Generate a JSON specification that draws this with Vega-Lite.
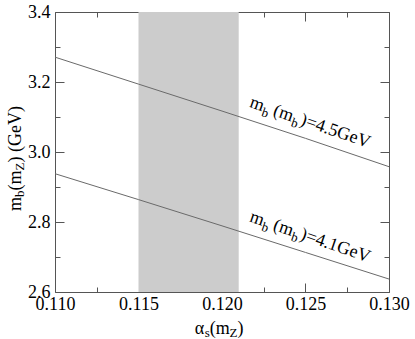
{
  "$schema": "https://vega.github.io/schema/vega-lite/v6.json",
  "width": 334,
  "height": 280,
  "autosize": "none",
  "padding": {"left": 55, "top": 12, "right": 26, "bottom": 47},
  "background": "white",
  "config": {
    "view": {"stroke": null},
    "font": "Liberation Serif",
    "axis": {
      "grid": false,
      "labelFont": "Liberation Serif",
      "labelFontSize": 18,
      "labelColor": "black",
      "tickColor": "#555555",
      "tickWidth": 1,
      "domainColor": "#555555",
      "domainWidth": 1,
      "labelOverlap": false,
      "labelFlush": false,
      "zindex": 1
    }
  },
  "datasets": {
    "band": [{"lo": 0.115, "hi": 0.121}],
    "curves": [
      {"s": "4.5", "x": 0.110, "y": 3.271},
      {"s": "4.5", "x": 0.115, "y": 3.194},
      {"s": "4.5", "x": 0.120, "y": 3.117},
      {"s": "4.5", "x": 0.125, "y": 3.039},
      {"s": "4.5", "x": 0.130, "y": 2.958},
      {"s": "4.1", "x": 0.110, "y": 2.938},
      {"s": "4.1", "x": 0.115, "y": 2.864},
      {"s": "4.1", "x": 0.120, "y": 2.789},
      {"s": "4.1", "x": 0.125, "y": 2.713},
      {"s": "4.1", "x": 0.130, "y": 2.637}
    ],
    "labels": [
      {"x": 0.1216, "y": 3.129, "val": ")=4.5GeV"},
      {"x": 0.1216, "y": 2.802, "val": ")=4.1GeV"}
    ],
    "xtitle": [{"x": 0.12, "y": 2.6}],
    "ytitle": [{"x": 0.11, "y": 2.8}]
  },
  "resolve": {"axis": {"x": "independent", "y": "independent"}},
  "layer": [
    {
      "data": {"name": "band"},
      "mark": {"type": "rect", "fill": "#cccccc", "strokeWidth": 0},
      "encoding": {
        "x": {"field": "lo", "type": "quantitative", "scale": {"domain": [0.11, 0.13], "nice": false, "zero": false},
              "axis": {"orient": "bottom", "title": null, "values": [0.11, 0.115, 0.12, 0.125, 0.13], "format": ".3f", "ticks": false, "domain": false, "labelPadding": 3}},
        "x2": {"field": "hi"},
        "y": {"datum": 2.6, "type": "quantitative", "scale": {"domain": [2.6, 3.4], "nice": false, "zero": false},
              "axis": {"orient": "left", "title": null, "values": [2.6, 2.8, 3.0, 3.2, 3.4], "format": ".1f", "ticks": false, "domain": false, "labelPadding": 5}},
        "y2": {"datum": 3.4}
      }
    },
    {
      "data": {"name": "curves"},
      "mark": {"type": "line", "color": "#6a6a6a", "strokeWidth": 1},
      "encoding": {
        "x": {"field": "x", "type": "quantitative", "scale": {"domain": [0.11, 0.13], "nice": false, "zero": false},
              "axis": {"orient": "bottom", "title": null, "values": [0.11, 0.115, 0.12, 0.125, 0.13], "labels": false, "tickSize": -9, "domain": true}},
        "y": {"field": "y", "type": "quantitative", "scale": {"domain": [2.6, 3.4], "nice": false, "zero": false},
              "axis": {"orient": "left", "title": null, "values": [2.6, 2.8, 3.0, 3.2, 3.4], "labels": false, "tickSize": -9, "domain": true}},
        "detail": {"field": "s", "type": "nominal"}
      }
    },
    {
      "data": {"name": "labels"},
      "mark": {"type": "text", "text": "m", "fontSize": 18, "angle": 19, "align": "left", "baseline": "alphabetic", "color": "black"},
      "encoding": {
        "x": {"field": "x", "type": "quantitative", "scale": {"domain": [0.11, 0.13], "nice": false, "zero": false},
              "axis": {"orient": "bottom", "title": null, "values": [0.1125, 0.1175, 0.1225, 0.1275], "labels": false, "tickSize": -5, "domain": false}},
        "y": {"field": "y", "type": "quantitative", "scale": {"domain": [2.6, 3.4], "nice": false, "zero": false},
              "axis": {"orient": "left", "title": null, "values": [2.7, 2.9, 3.1, 3.3], "labels": false, "tickSize": -5, "domain": false}}
      }
    },
    {
      "data": {"name": "labels"},
      "mark": {"type": "text", "text": "b", "fontSize": 13, "angle": 19, "align": "left", "baseline": "alphabetic", "dx": 14.2, "dy": 4.5, "color": "black"},
      "encoding": {
        "x": {"field": "x", "type": "quantitative", "scale": {"domain": [0.11, 0.13], "nice": false, "zero": false},
              "axis": {"orient": "top", "title": null, "values": [0.11, 0.115, 0.12, 0.125, 0.13], "labels": false, "tickSize": -9, "domain": true}},
        "y": {"field": "y", "type": "quantitative", "scale": {"domain": [2.6, 3.4], "nice": false, "zero": false},
              "axis": {"orient": "right", "title": null, "values": [2.6, 2.8, 3.0, 3.2, 3.4], "labels": false, "tickSize": -9, "domain": true}}
      }
    },
    {
      "data": {"name": "labels"},
      "mark": {"type": "text", "text": "(m", "fontSize": 18, "angle": 19, "align": "left", "baseline": "alphabetic", "dx": 25, "color": "black"},
      "encoding": {
        "x": {"field": "x", "type": "quantitative", "scale": {"domain": [0.11, 0.13], "nice": false, "zero": false},
              "axis": {"orient": "top", "title": null, "values": [0.1125, 0.1175, 0.1225, 0.1275], "labels": false, "tickSize": -5, "domain": false}},
        "y": {"field": "y", "type": "quantitative", "scale": {"domain": [2.6, 3.4], "nice": false, "zero": false},
              "axis": {"orient": "right", "title": null, "values": [2.7, 2.9, 3.1, 3.3], "labels": false, "tickSize": -5, "domain": false}}
      }
    },
    {
      "data": {"name": "labels"},
      "mark": {"type": "text", "text": "b", "fontSize": 13, "angle": 19, "align": "left", "baseline": "alphabetic", "dx": 45.5, "dy": 4.5, "color": "black"},
      "encoding": {
        "x": {"field": "x", "type": "quantitative", "scale": {"domain": [0.11, 0.13], "nice": false, "zero": false}, "axis": null},
        "y": {"field": "y", "type": "quantitative", "scale": {"domain": [2.6, 3.4], "nice": false, "zero": false}, "axis": null}
      }
    },
    {
      "data": {"name": "labels"},
      "mark": {"type": "text", "fontSize": 18, "angle": 19, "align": "left", "baseline": "alphabetic", "dx": 53.5, "color": "black"},
      "encoding": {
        "x": {"field": "x", "type": "quantitative", "scale": {"domain": [0.11, 0.13], "nice": false, "zero": false}, "axis": null},
        "y": {"field": "y", "type": "quantitative", "scale": {"domain": [2.6, 3.4], "nice": false, "zero": false}, "axis": null},
        "text": {"field": "val", "type": "nominal"}
      }
    },
    {
      "data": {"name": "xtitle"},
      "mark": {"type": "text", "text": "α", "fontSize": 18, "align": "left", "baseline": "alphabetic", "dx": -27.3, "dy": 42, "color": "black"},
      "encoding": {
        "x": {"field": "x", "type": "quantitative", "scale": {"domain": [0.11, 0.13], "nice": false, "zero": false}, "axis": null},
        "y": {"field": "y", "type": "quantitative", "scale": {"domain": [2.6, 3.4], "nice": false, "zero": false}, "axis": null}
      }
    },
    {
      "data": {"name": "xtitle"},
      "mark": {"type": "text", "text": "s", "fontSize": 13, "align": "left", "baseline": "alphabetic", "dx": -17.3, "dy": 45, "color": "black"},
      "encoding": {
        "x": {"field": "x", "type": "quantitative", "scale": {"domain": [0.11, 0.13], "nice": false, "zero": false}, "axis": null},
        "y": {"field": "y", "type": "quantitative", "scale": {"domain": [2.6, 3.4], "nice": false, "zero": false}, "axis": null}
      }
    },
    {
      "data": {"name": "xtitle"},
      "mark": {"type": "text", "text": "(m", "fontSize": 18, "align": "left", "baseline": "alphabetic", "dx": -12.3, "dy": 42, "color": "black"},
      "encoding": {
        "x": {"field": "x", "type": "quantitative", "scale": {"domain": [0.11, 0.13], "nice": false, "zero": false}, "axis": null},
        "y": {"field": "y", "type": "quantitative", "scale": {"domain": [2.6, 3.4], "nice": false, "zero": false}, "axis": null}
      }
    },
    {
      "data": {"name": "xtitle"},
      "mark": {"type": "text", "text": "Z", "fontSize": 13, "align": "left", "baseline": "alphabetic", "dx": 7.5, "dy": 45, "color": "black"},
      "encoding": {
        "x": {"field": "x", "type": "quantitative", "scale": {"domain": [0.11, 0.13], "nice": false, "zero": false}, "axis": null},
        "y": {"field": "y", "type": "quantitative", "scale": {"domain": [2.6, 3.4], "nice": false, "zero": false}, "axis": null}
      }
    },
    {
      "data": {"name": "xtitle"},
      "mark": {"type": "text", "text": ")", "fontSize": 18, "align": "left", "baseline": "alphabetic", "dx": 15.5, "dy": 42, "color": "black"},
      "encoding": {
        "x": {"field": "x", "type": "quantitative", "scale": {"domain": [0.11, 0.13], "nice": false, "zero": false}, "axis": null},
        "y": {"field": "y", "type": "quantitative", "scale": {"domain": [2.6, 3.4], "nice": false, "zero": false}, "axis": null}
      }
    },
    {
      "data": {"name": "ytitle"},
      "mark": {"type": "text", "text": "m", "fontSize": 18, "angle": 270, "align": "left", "baseline": "alphabetic", "dx": 11, "dy": -34.5, "color": "black"},
      "encoding": {
        "x": {"field": "x", "type": "quantitative", "scale": {"domain": [0.11, 0.13], "nice": false, "zero": false}, "axis": null},
        "y": {"field": "y", "type": "quantitative", "scale": {"domain": [2.6, 3.4], "nice": false, "zero": false}, "axis": null}
      }
    },
    {
      "data": {"name": "ytitle"},
      "mark": {"type": "text", "text": "b", "fontSize": 13, "angle": 270, "align": "left", "baseline": "alphabetic", "dx": 25, "dy": -31, "color": "black"},
      "encoding": {
        "x": {"field": "x", "type": "quantitative", "scale": {"domain": [0.11, 0.13], "nice": false, "zero": false}, "axis": null},
        "y": {"field": "y", "type": "quantitative", "scale": {"domain": [2.6, 3.4], "nice": false, "zero": false}, "axis": null}
      }
    },
    {
      "data": {"name": "ytitle"},
      "mark": {"type": "text", "text": "(m", "fontSize": 18, "angle": 270, "align": "left", "baseline": "alphabetic", "dx": 31.5, "dy": -34.5, "color": "black"},
      "encoding": {
        "x": {"field": "x", "type": "quantitative", "scale": {"domain": [0.11, 0.13], "nice": false, "zero": false}, "axis": null},
        "y": {"field": "y", "type": "quantitative", "scale": {"domain": [2.6, 3.4], "nice": false, "zero": false}, "axis": null}
      }
    },
    {
      "data": {"name": "ytitle"},
      "mark": {"type": "text", "text": "Z", "fontSize": 13, "angle": 270, "align": "left", "baseline": "alphabetic", "dx": 51.5, "dy": -31, "color": "black"},
      "encoding": {
        "x": {"field": "x", "type": "quantitative", "scale": {"domain": [0.11, 0.13], "nice": false, "zero": false}, "axis": null},
        "y": {"field": "y", "type": "quantitative", "scale": {"domain": [2.6, 3.4], "nice": false, "zero": false}, "axis": null}
      }
    },
    {
      "data": {"name": "ytitle"},
      "mark": {"type": "text", "text": ") (GeV)", "fontSize": 18, "angle": 270, "align": "left", "baseline": "alphabetic", "dx": 59.5, "dy": -34.5, "color": "black"},
      "encoding": {
        "x": {"field": "x", "type": "quantitative", "scale": {"domain": [0.11, 0.13], "nice": false, "zero": false}, "axis": null},
        "y": {"field": "y", "type": "quantitative", "scale": {"domain": [2.6, 3.4], "nice": false, "zero": false}, "axis": null}
      }
    }
  ]
}
